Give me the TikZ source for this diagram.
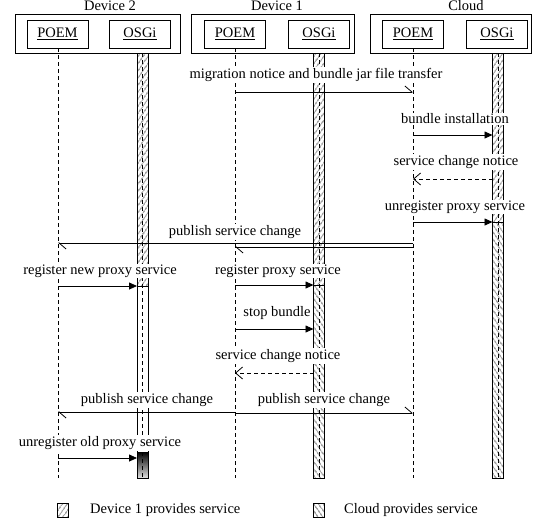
\documentclass[tikz,border=0pt]{standalone}
\usepackage{fontspec}
\setmainfont{Liberation Serif}
\usetikzlibrary{arrows.meta,patterns.meta}
\tikzset{
  grp/.style={draw, line width=0.8pt},
  obj/.style={draw, line width=0.8pt, minimum width=61pt, minimum height=28pt, inner sep=0pt, font=\fontsize{14.5}{17}\selectfont},
  ttl/.style={inner sep=0pt, font=\fontsize{14.5}{17}\selectfont},
  life/.style={line width=0.8pt, dash pattern=on 4pt off 3pt},
  barD/.style={draw, line width=0.8pt, pattern={Lines[angle=55,distance=4pt,line width=0.7pt]}},
  barC/.style={draw, line width=0.8pt, pattern={Lines[angle=-55,distance=4pt,line width=0.7pt]}},
  barW/.style={draw, line width=0.8pt},
  barG/.style={draw, line width=0.8pt, top color=black, bottom color=black!12},
  lbl/.style={fill=white, inner sep=1pt, font=\fontsize{14.5}{17}\selectfont},
  sync/.style={line width=0.8pt, -{Triangle[length=8pt,width=7pt]}},
  ret/.style={line width=0.8pt, dash pattern=on 4pt off 3pt, -{Straight Barb[length=7pt,width=12pt]}},
  async/.style={line width=0.8pt, -{Straight Barb[left,length=7pt,width=12pt]}},
  leg/.style={inner sep=0pt, anchor=west, font=\fontsize{14.5}{17}\selectfont},
}
\begin{document}
\begin{tikzpicture}[x=1pt,y=-1pt]
\useasboundingbox (0,0) rectangle (534,522);
% groups
\draw[grp] (15,14) rectangle (180,53);
\draw[grp] (191,14) rectangle (354,53);
\draw[grp] (370,14) rectangle (531,53);
\node[ttl] (t2) at (110,6) {Device 2};
\node[ttl] (t1) at (277,6) {Device 1};
\node[ttl] (tc) at (466,6) {Cloud};
% objects
\node[obj] (p2) at (57.5,34) {\underline{POEM}};
\node[obj] (o2) at (140,34) {\underline{OSGi}};
\node[obj] (p1) at (235,34) {\underline{POEM}};
\node[obj] (o1) at (319,34) {\underline{OSGi}};
\node[obj] (pc) at (413,34) {\underline{POEM}};
\node[obj] (oc) at (497,34) {\underline{OSGi}};
% lifelines
\draw[life] (58,48) -- (58,478);
\draw[life] (142.5,53) -- (142.5,478);
\draw[life] (235,48) -- (235,478);
\draw[life] (319,53) -- (319,478);
\draw[life] (413,48) -- (413,478);
\draw[life] (498,53) -- (498,478);
% activation bars
\path[barD] (137,53) rectangle (148,286);
\path[barW] (137,286) rectangle (148,452);
\path[barG] (137,452) rectangle (148,478);
\draw[life] (142.5,452) -- (142.5,478);
\path[barD] (313.5,53) rectangle (324.5,285);
\path[barC] (313.5,285) rectangle (324.5,478);
\path[barD] (492.5,53) rectangle (503.5,222);
\path[barC] (492.5,222) rectangle (503.5,478);
% message end points
\coordinate (a1s) at (235,92);   \coordinate (a1e) at (413,92);
\coordinate (a2s) at (413,135);  \coordinate (a2e) at (492.5,135);
\coordinate (a3s) at (492.5,179);\coordinate (a3e) at (413,179);
\coordinate (a4s) at (413,222);  \coordinate (a4e) at (492.5,222);
\coordinate (a5s) at (413,243);  \coordinate (a5e) at (58,243);
\coordinate (a6s) at (413,247);  \coordinate (a6e) at (235,247);
\coordinate (a7s) at (58,286);   \coordinate (a7e) at (137,286);
\coordinate (a8s) at (235,285);  \coordinate (a8e) at (313.5,285);
\coordinate (a9s) at (235,329);  \coordinate (a9e) at (313.5,329);
\coordinate (a10s) at (313.5,373);\coordinate (a10e) at (235,373);
\coordinate (a11s) at (235,412); \coordinate (a11e) at (58,412);
\coordinate (a12s) at (235,413); \coordinate (a12e) at (413,413);
\coordinate (a13s) at (58,458);  \coordinate (a13e) at (137,458);
% messages
\draw[async] (a1s) -- (a1e);
\draw[sync] (a2s) -- (a2e);
\draw[ret] (a3s) -- (a3e);
\draw[sync] (a4s) -- (a4e);
\draw[async] (a5s) -- (a5e);
\draw[async] (a6s) -- (a6e);
\draw[sync] (a7s) -- (a7e);
\draw[sync] (a8s) -- (a8e);
\draw[sync] (a9s) -- (a9e);
\draw[ret] (a10s) -- (a10e);
\draw[async] (a11s) -- (a11e);
\draw[async] (a12s) -- (a12e);
\draw[sync] (a13s) -- (a13e);
% labels
\node[lbl] (l1) at (316,75) {migration notice and bundle jar file transfer};
\node[lbl] (l2) at (455,119) {bundle installation};
\node[lbl] (l3) at (456,162) {service change notice};
\node[lbl] (l4) at (455,207) {unregister proxy service};
\node[lbl] (l5) at (235,232) {publish service change};
\node[lbl] (l6) at (100,271) {register new proxy service};
\node[lbl] (l7) at (278,271) {register proxy service};
\node[lbl] (l8) at (277,313) {stop bundle};
\node[lbl] (l9) at (278,356) {service change notice};
\node[lbl] (l10) at (147,400) {publish service change};
\node[lbl] (l11) at (324,400) {publish service change};
\node[lbl] (l12) at (100,443) {unregister old proxy service};
% legend
\path[draw, line width=0.8pt, pattern={Lines[angle=55,distance=4pt,line width=0.7pt]}] (57,503) rectangle (68,517);
\node[leg] (lg1) at (90,510) {Device 1 provides service};
\path[draw, line width=0.8pt, pattern={Lines[angle=-55,distance=4pt,line width=0.7pt]}] (313,503) rectangle (324,517);
\node[leg] (lg2) at (344,510) {Cloud provides service};
\end{tikzpicture}
\end{document}
